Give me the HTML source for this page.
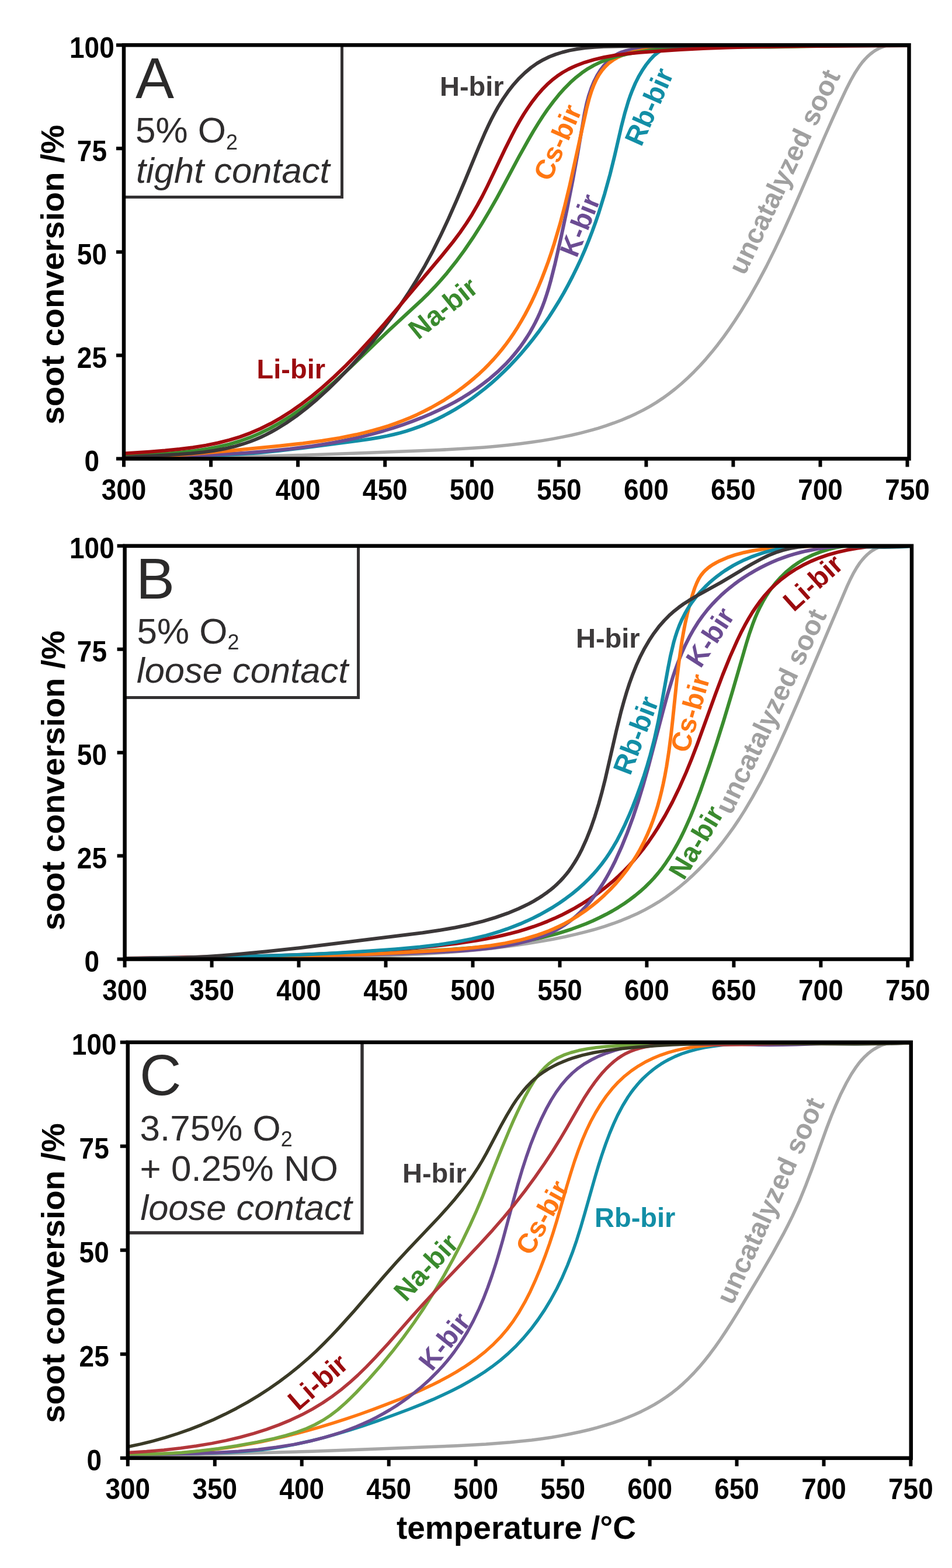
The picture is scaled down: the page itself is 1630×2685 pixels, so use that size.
<!DOCTYPE html>
<html><head><meta charset="utf-8"><title>soot conversion vs temperature</title>
<style>html,body{margin:0;padding:0;background:#fff;}svg{display:block;}text{font-family:"Liberation Sans",Arial,Helvetica,sans-serif;}.tk{font-weight:bold;font-size:50px;fill:#000;}.ax{font-weight:bold;font-size:55px;fill:#000;}.ay{font-weight:bold;font-size:56px;fill:#000;}.pl{font-size:99px;fill:#2b2a2a;}.cd{font-size:62px;fill:#2e2c2d;}.it{font-size:61.5px;font-style:italic;fill:#2e2c2d;}.sb{font-size:36px;fill:#2e2c2d;}.lb{font-weight:bold;font-size:47px;}</style></head><body>
<svg xmlns="http://www.w3.org/2000/svg" width="1630" height="2685" viewBox="0 0 1630 2685">
<rect width="1630" height="2685" fill="#fff"/>
<g id="panelA">
<clipPath id="clipA"><rect x="212" y="77.2" width="1344.5" height="708.3"/></clipPath>
<g clip-path="url(#clipA)" fill="none" stroke-linecap="round" stroke-linejoin="round">
<path d="M212.0,784.4 L280.7,784.3 L353.3,783.4 L430.7,781.8 L515.7,779.4 L625.9,775.5 L752.5,770.5 L806.1,767.6 L829.5,765.9 L851.6,764.0 L871.5,762.0 L891.1,759.8 L909.7,757.3 L928.0,754.6 L945.8,751.6 L962.7,748.4 L979.2,745.0 L994.7,741.3 L1009.7,737.4 L1024.2,733.3 L1038.0,728.9 L1051.3,724.2 L1064.5,719.2 L1077.0,713.9 L1088.9,708.4 L1100.6,702.6 L1112.4,696.1 L1123.9,689.1 L1134.7,681.9 L1145.7,674.0 L1156.6,665.5 L1167.3,656.5 L1178.0,646.8 L1188.3,636.7 L1198.7,625.9 L1208.7,614.8 L1219.0,602.6 L1228.9,590.2 L1238.8,577.1 L1248.8,563.1 L1258.5,548.8 L1268.3,533.6 L1283.2,509.0 L1297.7,483.4 L1312.2,456.1 L1326.7,426.9 L1340.6,397.5 L1355.4,364.6 L1370.6,329.8 L1411.7,234.5 L1424.5,205.6 L1436.3,179.5 L1448.5,153.6 L1456.7,137.5 L1464.4,123.9 L1472.1,112.3 L1476.4,106.6 L1480.8,101.6 L1485.1,97.1 L1489.7,93.0 L1494.5,89.3 L1499.2,86.1 L1504.2,83.3 L1509.1,81.1 L1514.3,79.2 L1519.7,77.7 L1525.3,76.6 L1531.3,75.9 L1537.5,75.6 L1543.6,75.8 L1549.9,76.4 L1556.5,77.4" stroke="#a7a7a7" stroke-width="5.5"/>
<path d="M212.0,785.5 L253.2,783.7 L336.9,781.0 L372.4,779.6 L408.9,777.7 L441.3,775.4 L476.3,772.0 L517.4,767.2 L614.2,754.6 L633.6,751.8 L650.3,749.0 L662.4,746.6 L674.0,744.0 L684.7,741.3 L695.2,738.3 L705.9,734.9 L716.5,731.1 L727.0,727.1 L737.7,722.5 L748.2,717.7 L758.6,712.5 L768.8,707.0 L779.2,701.1 L789.4,694.8 L799.4,688.2 L809.3,681.4 L818.9,674.2 L830.1,665.5 L841.0,656.4 L851.6,646.9 L862.3,636.9 L872.8,626.5 L882.9,615.7 L893.1,604.4 L902.9,592.8 L912.5,580.9 L922.0,568.4 L931.2,555.6 L940.1,542.6 L948.6,529.4 L957.1,515.7 L965.2,501.7 L973.1,487.2 L980.5,473.0 L987.8,458.2 L994.7,443.4 L1001.4,428.0 L1007.7,412.5 L1013.9,396.5 L1019.9,379.9 L1025.6,363.2 L1035.3,331.8 L1044.6,298.2 L1052.0,268.3 L1064.2,215.4 L1069.6,194.4 L1075.8,173.5 L1079.0,164.1 L1082.5,155.0 L1087.8,142.5 L1093.4,131.3 L1099.5,120.9 L1106.2,111.0 L1113.1,102.3 L1119.9,95.2 L1126.8,89.6 L1133.7,85.3 L1137.7,83.4 L1141.9,81.7 L1146.3,80.3 L1150.7,79.2 L1160.9,77.6 L1172.9,76.9 L1184.8,77.0 L1227.9,78.3 L1263.3,78.6 L1396.6,77.9 L1556.5,77.5" stroke="#128ea6" stroke-width="6"/>
<path d="M212.0,785.5 L250.0,783.7 L338.1,780.0 L377.5,778.1 L419.0,775.7 L456.4,772.8 L496.3,768.8 L533.8,764.0 L551.6,761.2 L569.4,758.2 L586.3,755.0 L603.1,751.5 L621.1,747.3 L638.7,742.8 L656.2,738.0 L673.2,732.8 L689.7,727.3 L706.2,721.4 L721.6,715.4 L736.9,709.0 L751.5,702.3 L765.6,695.4 L778.9,688.3 L792.0,680.8 L804.4,673.1 L816.5,665.0 L827.8,656.7 L838.8,648.1 L853.6,635.2 L867.3,621.8 L873.8,614.8 L880.0,607.5 L886.0,600.1 L891.6,592.8 L897.1,585.0 L902.4,577.0 L907.5,568.8 L912.0,560.8 L916.5,552.3 L920.8,543.6 L924.6,535.2 L928.3,526.2 L932.2,515.8 L936.0,504.4 L939.7,492.5 L943.3,479.6 L950.5,450.9 L960.8,405.5 L971.1,357.1 L980.8,308.2 L988.8,264.4 L1001.1,192.8 L1004.4,177.4 L1008.1,163.6 L1012.3,151.1 L1017.0,139.7 L1022.4,129.2 L1028.2,119.9 L1034.9,111.2 L1042.2,103.5 L1049.6,97.4 L1053.5,94.7 L1057.6,92.3 L1064.2,89.3 L1072.0,86.9 L1081.0,84.9 L1093.2,83.0 L1110.2,80.9 L1128.2,79.2 L1147.1,78.0 L1167.0,77.2 L1190.9,76.7 L1217.9,76.8 L1307.6,78.7 L1341.7,79.1 L1381.0,78.8 L1491.4,76.9 L1525.4,76.9 L1556.5,77.5" stroke="#6b4c93" stroke-width="6"/>
<path d="M212.0,785.0 L264.7,782.3 L322.0,778.1 L385.9,772.6 L479.3,763.5 L518.6,759.2 L551.7,754.7 L581.6,749.9 L609.5,744.3 L624.0,740.9 L638.3,737.2 L651.7,733.4 L665.0,729.3 L677.7,724.9 L689.9,720.3 L702.4,715.2 L714.3,709.9 L726.5,704.0 L738.1,698.0 L749.8,691.4 L761.0,684.8 L772.0,677.7 L782.7,670.4 L793.2,662.7 L803.4,654.6 L812.4,647.1 L821.1,639.4 L829.6,631.3 L837.5,623.3 L845.2,615.1 L852.6,606.6 L859.8,597.9 L866.7,589.0 L873.6,579.5 L880.3,569.7 L886.6,559.8 L892.9,549.2 L899.0,538.5 L905.0,527.2 L910.7,515.8 L916.3,503.8 L922.2,490.4 L927.8,476.9 L933.2,462.9 L938.7,448.0 L943.9,432.7 L949.0,416.9 L958.8,383.7 L967.0,352.6 L975.3,318.1 L1004.4,186.0 L1008.7,169.2 L1013.0,155.4 L1016.9,145.2 L1021.0,136.2 L1025.6,128.1 L1030.8,120.6 L1036.4,114.1 L1042.6,108.2 L1049.5,103.0 L1056.9,98.6 L1065.6,94.6 L1075.2,91.4 L1086.5,88.5 L1100.3,85.9 L1117.5,83.3 L1135.7,81.2 L1154.9,79.6 L1175.0,78.5 L1199.5,77.8 L1226.7,77.7 L1314.5,79.2 L1345.5,79.4 L1382.1,79.0 L1458.1,77.3 L1490.8,76.8 L1525.3,76.8 L1556.5,77.5" stroke="#ff7712" stroke-width="6"/>
<path d="M212.0,781.5 L288.9,776.4 L312.2,774.3 L333.3,771.9 L354.7,768.7 L374.3,764.9 L392.7,760.6 L410.1,755.5 L427.4,749.4 L444.3,742.3 L461.6,733.9 L478.7,724.4 L496.2,713.6 L513.8,701.5 L531.7,688.1 L550.4,673.1 L570.2,656.1 L591.6,636.7 L611.3,618.1 L665.4,566.2 L721.0,514.8 L733.1,503.0 L744.0,491.7 L754.8,479.8 L765.2,467.7 L780.3,448.7 L795.2,428.5 L810.0,406.8 L824.8,383.5 L837.6,362.0 L850.6,339.2 L861.7,318.7 L888.4,268.7 L904.4,240.0 L913.1,225.0 L921.4,211.5 L929.5,198.9 L937.3,187.5 L947.3,174.1 L957.0,162.1 L966.6,151.3 L976.5,141.3 L986.6,132.3 L996.5,124.6 L1006.8,117.6 L1017.3,111.6 L1029.3,105.9 L1042.2,101.0 L1056.7,96.7 L1072.7,92.8 L1091.7,89.2 L1111.7,86.3 L1132.6,84.0 L1154.8,82.2 L1180.4,81.0 L1209.3,80.4 L1318.2,80.4 L1358.5,79.8 L1481.3,77.4 L1520.9,77.2 L1556.5,77.5" stroke="#3a8c2e" stroke-width="6"/>
<path d="M212.0,783.5 L237.5,781.8 L306.6,778.1 L327.3,776.5 L345.8,774.6 L366.6,771.7 L385.4,768.3 L403.1,764.1 L419.9,759.0 L428.6,756.0 L437.5,752.5 L446.3,748.7 L454.9,744.6 L463.8,740.0 L472.5,735.2 L489.9,724.5 L507.2,712.6 L524.9,698.9 L543.1,683.6 L561.7,666.6 L580.7,648.0 L600.0,628.0 L618.4,607.8 L635.9,587.4 L652.8,566.6 L668.8,545.7 L684.1,524.4 L698.5,503.0 L713.5,479.1 L727.5,455.2 L741.2,429.8 L755.0,402.0 L768.0,374.3 L781.8,343.0 L795.6,310.5 L820.1,251.1 L829.4,229.6 L835.4,216.6 L841.0,204.9 L846.8,193.9 L852.4,183.8 L861.1,169.6 L870.0,156.7 L879.4,144.7 L888.9,134.1 L898.7,124.6 L909.0,115.9 L919.6,108.4 L930.4,102.2 L940.5,97.3 L951.3,93.1 L962.8,89.5 L975.1,86.4 L988.1,84.0 L1002.2,82.1 L1017.4,80.7 L1033.7,79.8 L1062.4,79.3 L1149.5,79.5 L1225.2,79.5 L1556.6,78.0" stroke="#3b3738" stroke-width="6"/>
<path d="M212.0,776.5 L255.1,773.7 L282.5,771.6 L307.5,769.1 L330.3,766.2 L352.6,762.6 L373.0,758.5 L392.3,753.7 L410.8,748.1 L428.5,741.6 L446.1,734.0 L463.6,725.3 L481.1,715.4 L498.7,704.2 L516.2,691.9 L533.9,678.4 L551.7,663.5 L571.8,645.5 L592.7,625.3 L614.4,603.0 L637.1,578.3 L658.1,554.4 L682.5,525.8 L755.8,438.8 L775.9,413.9 L787.6,398.2 L798.4,382.6 L808.2,367.3 L817.5,351.3 L825.8,336.0 L834.6,318.5 L864.4,255.9 L876.8,231.1 L883.6,218.2 L890.2,206.6 L896.7,195.6 L903.4,185.4 L911.5,173.8 L919.8,163.1 L928.0,153.7 L936.7,144.8 L945.2,137.2 L954.1,130.3 L963.5,124.0 L973.3,118.5 L980.0,115.2 L986.8,112.2 L1001.2,106.8 L1017.0,102.1 L1034.5,98.0 L1052.8,94.8 L1073.2,92.1 L1096.4,89.8 L1127.6,87.4 L1165.2,85.0 L1204.3,83.0 L1245.2,81.5 L1288.8,80.2 L1371.7,78.9 L1556.5,77.5" stroke="#a30b0f" stroke-width="6"/>
</g>
<path d="M212,337.5 H585.5 V77.2 H585.5" fill="none" stroke="#333132" stroke-width="5"/>
<path d="M585.5,79.2 V337.5 H212" fill="none" stroke="#333132" stroke-width="5" stroke-linecap="square"/>
<rect x="212" y="77.2" width="1344.5" height="708.3" fill="none" stroke="#000" stroke-width="6.5"/>
<path d="M212,785.5 V799.5 M361.1,785.5 V799.5 M510.1,785.5 V799.5 M659.2,785.5 V799.5 M808.2,785.5 V799.5 M957.3,785.5 V799.5 M1106.4,785.5 V799.5 M1255.4,785.5 V799.5 M1404.5,785.5 V799.5 M1553.5,785.5 V799.5 M212,785.5 H199 M212,608.4 H199 M212,431.4 H199 M212,254.3 H199 M212,77.2 H199" stroke="#000" stroke-width="6"/>
<text class="tk" transform="translate(212,855.5) scale(0.92,1)" text-anchor="middle">300</text>
<text class="tk" transform="translate(361.1,855.5) scale(0.92,1)" text-anchor="middle">350</text>
<text class="tk" transform="translate(510.1,855.5) scale(0.92,1)" text-anchor="middle">400</text>
<text class="tk" transform="translate(659.2,855.5) scale(0.92,1)" text-anchor="middle">450</text>
<text class="tk" transform="translate(808.2,855.5) scale(0.92,1)" text-anchor="middle">500</text>
<text class="tk" transform="translate(957.3,855.5) scale(0.92,1)" text-anchor="middle">550</text>
<text class="tk" transform="translate(1106.4,855.5) scale(0.92,1)" text-anchor="middle">600</text>
<text class="tk" transform="translate(1255.4,855.5) scale(0.92,1)" text-anchor="middle">650</text>
<text class="tk" transform="translate(1404.5,855.5) scale(0.92,1)" text-anchor="middle">700</text>
<text class="tk" transform="translate(1553.5,855.5) scale(0.92,1)" text-anchor="middle">750</text>
<text class="tk" transform="translate(157.4,807) scale(0.92,1)" text-anchor="middle">0</text>
<text class="tk" transform="translate(157.4,629.9) scale(0.92,1)" text-anchor="middle">25</text>
<text class="tk" transform="translate(157.4,452.9) scale(0.92,1)" text-anchor="middle">50</text>
<text class="tk" transform="translate(157.4,275.8) scale(0.92,1)" text-anchor="middle">75</text>
<text class="tk" transform="translate(157.4,98.7) scale(0.92,1)" text-anchor="middle">100</text>
</g>
<g id="panelB">
<clipPath id="clipB"><rect x="213.6" y="934.8" width="1347.4" height="707.7"/></clipPath>
<g clip-path="url(#clipB)" fill="none" stroke-linecap="round" stroke-linejoin="round">
<path d="M213.6,1642.0 L300.5,1641.0 L504.5,1639.9 L557.0,1639.2 L604.2,1638.2 L662.4,1636.4 L716.7,1633.9 L765.3,1630.9 L810.0,1627.2 L834.2,1624.7 L857.6,1622.0 L880.5,1619.0 L902.6,1615.8 L925.1,1612.1 L946.8,1608.2 L966.8,1604.2 L985.8,1599.9 L1003.0,1595.6 L1019.7,1591.1 L1035.3,1586.3 L1050.4,1581.2 L1064.8,1575.8 L1078.6,1570.1 L1091.7,1564.2 L1104.3,1557.9 L1116.5,1551.2 L1128.1,1544.2 L1139.8,1536.5 L1151.2,1528.3 L1162.6,1519.5 L1173.7,1510.2 L1184.5,1500.4 L1195.3,1490.0 L1205.7,1479.3 L1216.2,1467.8 L1226.5,1455.7 L1236.5,1443.3 L1246.4,1430.2 L1256.0,1416.9 L1265.4,1402.9 L1274.8,1388.1 L1288.4,1365.2 L1302.1,1340.4 L1315.6,1314.0 L1329.6,1284.6 L1345.9,1248.7 L1367.2,1199.7 L1450.5,1003.6 L1456.2,991.4 L1461.5,981.1 L1466.7,972.1 L1472.2,963.9 L1476.4,958.6 L1480.6,953.9 L1485.0,949.5 L1489.7,945.6 L1494.5,942.3 L1499.4,939.4 L1504.7,936.9 L1510.2,934.8 L1516.0,933.2 L1521.6,932.1 L1527.9,931.4 L1534.1,931.2 L1540.5,931.5 L1547.1,932.2 L1554.0,933.4 L1561.1,935.1" stroke="#a7a7a7" stroke-width="5.5"/>
<path d="M213.6,1641.5 L343.8,1640.0 L427.0,1638.8 L503.2,1637.2 L572.4,1635.3 L642.0,1632.7 L707.7,1629.6 L772.5,1625.8 L817.6,1622.2 L852.2,1618.5 L883.6,1614.1 L898.5,1611.5 L912.6,1608.8 L926.6,1605.7 L940.2,1602.4 L953.7,1598.8 L966.7,1594.9 L979.2,1590.8 L991.6,1586.3 L1003.5,1581.7 L1015.2,1576.7 L1026.7,1571.3 L1037.6,1565.8 L1048.3,1560.0 L1058.7,1553.8 L1068.9,1547.2 L1078.4,1540.5 L1087.6,1533.5 L1096.2,1526.4 L1104.5,1519.0 L1112.4,1511.2 L1119.7,1503.5 L1126.9,1495.0 L1133.8,1486.3 L1140.3,1477.2 L1146.7,1467.5 L1152.9,1457.5 L1159.1,1446.6 L1165.1,1435.4 L1170.9,1423.5 L1176.6,1411.1 L1182.5,1397.6 L1188.1,1383.7 L1200.0,1352.1 L1214.5,1310.6 L1226.5,1273.9 L1238.8,1235.0 L1254.5,1182.7 L1278.0,1101.5 L1283.5,1083.9 L1288.9,1068.5 L1293.0,1057.9 L1297.3,1047.9 L1301.7,1038.8 L1306.3,1030.0 L1311.2,1021.7 L1316.4,1013.6 L1322.0,1005.8 L1327.7,998.6 L1336.9,988.3 L1346.5,979.0 L1356.8,970.5 L1367.6,963.0 L1379.3,956.1 L1391.5,950.2 L1404.6,945.1 L1418.1,940.8 L1430.3,937.9 L1443.0,935.6 L1456.0,934.1 L1469.6,933.2 L1481.5,932.9 L1494.3,933.0 L1541.7,934.8 L1561.0,935.1" stroke="#3a8c2e" stroke-width="6"/>
<path d="M213.6,1641.0 L422.2,1637.5 L482.7,1636.0 L537.3,1634.1 L593.6,1631.5 L646.5,1628.3 L697.0,1624.4 L745.0,1619.9 L782.8,1615.5 L815.8,1610.6 L831.3,1607.9 L846.3,1604.9 L860.4,1601.8 L874.4,1598.4 L887.8,1594.8 L900.8,1590.9 L913.6,1586.7 L925.9,1582.3 L937.7,1577.6 L949.3,1572.6 L960.8,1567.3 L972.1,1561.5 L984.0,1555.1 L995.7,1548.2 L1007.2,1540.9 L1018.0,1533.5 L1029.0,1525.5 L1039.3,1517.4 L1049.7,1508.7 L1059.4,1500.0 L1068.8,1490.9 L1077.6,1481.8 L1086.0,1472.4 L1094.4,1462.4 L1102.8,1451.8 L1110.8,1440.9 L1118.7,1429.4 L1126.3,1417.6 L1138.9,1396.4 L1151.2,1373.5 L1163.2,1348.8 L1174.8,1322.6 L1184.2,1299.6 L1194.0,1274.1 L1225.3,1187.7 L1237.2,1156.0 L1249.8,1124.9 L1262.2,1097.0 L1268.8,1083.2 L1275.3,1070.8 L1281.9,1059.0 L1288.4,1048.3 L1295.2,1038.2 L1302.0,1028.8 L1309.1,1020.0 L1316.5,1011.7 L1326.8,1001.5 L1337.7,992.0 L1349.4,983.3 L1362.0,975.0 L1374.8,967.8 L1388.5,961.1 L1402.7,955.3 L1417.7,950.1 L1433.9,945.6 L1450.4,941.8 L1467.5,938.8 L1485.6,936.4 L1504.1,934.9 L1522.8,934.2 L1541.7,934.2 L1561.0,935.1" stroke="#a30b0f" stroke-width="6"/>
<path d="M213.6,1641.5 L423.7,1639.0 L495.2,1637.9 L559.7,1636.5 L625.6,1634.8 L688.0,1632.7 L753.7,1630.0 L791.8,1627.9 L818.5,1625.8 L842.0,1623.2 L864.3,1619.9 L885.1,1615.9 L903.9,1611.2 L921.1,1605.9 L929.3,1602.9 L936.9,1599.9 L944.4,1596.5 L951.3,1593.1 L959.1,1588.7 L966.2,1584.2 L973.5,1579.1 L980.5,1573.7 L987.2,1568.0 L994.0,1561.6 L1000.5,1554.9 L1007.1,1547.6 L1013.3,1540.0 L1019.3,1532.2 L1025.3,1523.6 L1031.3,1514.5 L1037.0,1505.1 L1042.6,1495.1 L1048.2,1484.6 L1053.6,1473.8 L1063.9,1451.1 L1074.0,1426.1 L1083.7,1399.7 L1093.2,1371.0 L1101.3,1344.4 L1109.7,1314.7 L1135.2,1217.8 L1143.0,1189.0 L1151.9,1159.8 L1156.2,1147.0 L1160.7,1134.8 L1166.9,1119.1 L1173.4,1104.6 L1180.3,1090.8 L1187.4,1078.1 L1194.9,1066.1 L1203.1,1054.5 L1211.3,1044.0 L1220.5,1033.6 L1227.2,1026.6 L1234.4,1019.6 L1242.0,1012.8 L1249.8,1006.3 L1257.8,1000.0 L1266.4,993.7 L1274.9,988.0 L1284.0,982.3 L1292.8,977.1 L1302.2,972.0 L1311.7,967.2 L1321.4,962.8 L1330.8,958.8 L1340.6,955.1 L1350.5,951.6 L1360.5,948.6 L1370.1,946.0 L1379.7,943.7 L1399.5,939.8 L1420.2,936.9 L1442.5,934.9 L1465.3,933.8 L1490.5,933.5 L1518.5,933.9 L1561.0,935.1" stroke="#6b4c93" stroke-width="6"/>
<path d="M213.5,1641.5 L454.7,1638.2 L514.3,1637.1 L568.1,1635.8 L626.9,1633.9 L682.4,1631.5 L736.7,1628.5 L782.7,1625.4 L813.1,1622.6 L840.2,1619.2 L865.1,1615.1 L887.9,1610.3 L898.7,1607.6 L909.4,1604.5 L919.6,1601.3 L929.6,1597.9 L939.2,1594.2 L948.6,1590.3 L957.8,1586.0 L966.6,1581.6 L978.7,1574.9 L990.5,1567.6 L1002.0,1559.8 L1013.5,1551.2 L1024.3,1542.4 L1035.0,1532.7 L1045.3,1522.6 L1055.1,1512.1 L1064.4,1501.1 L1073.0,1490.2 L1081.0,1478.8 L1088.5,1467.2 L1095.5,1455.2 L1101.9,1443.0 L1107.9,1430.1 L1113.6,1416.6 L1117.9,1405.3 L1121.9,1393.5 L1125.7,1381.5 L1129.2,1368.9 L1132.5,1355.8 L1135.6,1342.1 L1138.5,1327.8 L1141.2,1313.0 L1145.2,1287.3 L1148.9,1258.6 L1152.0,1230.5 L1158.9,1163.8 L1162.9,1130.1 L1167.7,1097.0 L1170.4,1081.7 L1173.2,1067.3 L1176.9,1050.8 L1180.9,1035.2 L1185.4,1019.3 L1189.6,1006.5 L1192.9,998.3 L1196.4,991.2 L1200.3,985.0 L1204.7,979.6 L1208.1,976.2 L1212.1,972.7 L1216.4,969.5 L1221.3,966.3 L1226.5,963.3 L1232.2,960.4 L1244.9,954.9 L1258.7,950.1 L1273.3,946.2 L1289.0,943.0 L1306.1,940.4 L1323.3,938.6 L1343.3,937.1 L1364.0,936.0 L1386.1,935.3 L1425.9,935.0 L1517.5,935.6 L1540.1,935.5 L1561.0,935.0" stroke="#ff7712" stroke-width="6"/>
<path d="M213.6,1641.5 L323.2,1639.8 L392.1,1638.5 L455.3,1636.8 L512.8,1634.9 L570.3,1632.2 L624.8,1629.1 L678.4,1625.2 L718.9,1621.5 L751.0,1617.7 L779.8,1613.2 L807.1,1607.9 L819.8,1605.0 L832.5,1601.8 L844.6,1598.3 L856.7,1594.6 L868.2,1590.7 L879.7,1586.4 L891.1,1581.9 L902.0,1577.1 L912.7,1572.1 L923.3,1566.8 L935.2,1560.2 L946.9,1553.3 L957.9,1546.2 L968.6,1538.7 L979.1,1530.9 L988.8,1522.9 L998.2,1514.6 L1006.9,1506.2 L1015.2,1497.4 L1022.9,1488.7 L1030.2,1479.6 L1037.1,1470.3 L1043.8,1460.3 L1050.4,1449.6 L1056.7,1438.7 L1062.9,1426.7 L1069.6,1413.0 L1076.4,1397.8 L1083.2,1381.6 L1090.0,1364.0 L1096.6,1345.9 L1102.7,1328.1 L1108.2,1310.7 L1113.3,1293.1 L1120.2,1266.6 L1126.7,1237.2 L1132.2,1208.4 L1143.7,1144.9 L1148.2,1122.2 L1153.3,1100.7 L1156.1,1091.0 L1158.9,1082.3 L1163.1,1071.0 L1167.6,1060.8 L1172.8,1050.5 L1178.6,1040.6 L1184.9,1031.2 L1192.1,1021.7 L1199.5,1013.0 L1207.7,1004.5 L1213.8,998.6 L1220.2,993.0 L1226.8,987.7 L1233.9,982.3 L1240.9,977.4 L1248.5,972.6 L1255.9,968.2 L1263.9,963.9 L1271.6,960.1 L1279.9,956.4 L1287.9,953.1 L1296.5,950.0 L1305.1,947.1 L1313.5,944.7 L1322.4,942.5 L1331.3,940.5 L1345.6,938.1 L1360.4,936.3 L1376.2,935.1 L1393.1,934.4 L1409.2,934.2 L1426.6,934.4 L1489.5,936.5 L1513.9,937.0 L1538.8,936.5 L1550.1,935.9 L1560.9,934.9" stroke="#128ea6" stroke-width="6"/>
<path d="M213.6,1640.9 L235.6,1641.3 L258.4,1641.3 L281.6,1641.0 L305.2,1640.4 L329.6,1639.3 L354.4,1637.9 L380.1,1636.2 L407.0,1634.0 L456.8,1629.3 L512.6,1623.2 L723.6,1597.3 L753.8,1592.8 L779.9,1588.3 L804.2,1583.2 L826.6,1577.6 L848.3,1571.1 L868.9,1563.9 L888.0,1556.0 L897.0,1551.8 L905.5,1547.6 L913.4,1543.3 L921.1,1538.7 L928.3,1534.1 L935.2,1529.3 L942.0,1524.2 L948.2,1519.1 L954.1,1513.7 L959.5,1508.4 L964.6,1502.9 L969.5,1497.1 L974.5,1490.8 L979.1,1484.2 L983.5,1477.4 L987.9,1470.1 L992.3,1462.2 L996.4,1454.1 L1003.9,1437.5 L1011.3,1418.9 L1018.4,1398.4 L1025.1,1376.6 L1030.7,1356.2 L1036.4,1333.7 L1055.1,1252.1 L1063.2,1219.1 L1068.0,1201.7 L1072.9,1185.2 L1077.8,1170.0 L1082.9,1155.9 L1089.4,1139.6 L1096.4,1124.1 L1103.7,1109.9 L1111.3,1096.9 L1119.4,1084.7 L1128.1,1073.1 L1137.4,1062.5 L1147.1,1052.7 L1154.4,1046.3 L1162.0,1040.3 L1170.3,1034.3 L1179.4,1028.4 L1194.2,1019.7 L1234.4,997.3 L1286.8,966.1 L1302.0,957.9 L1315.4,951.3 L1328.0,946.2 L1340.6,942.1 L1353.0,939.0 L1366.3,936.8 L1380.6,935.3 L1396.1,934.4 L1408.2,934.2 L1422.2,934.3 L1478.2,935.9 L1507.9,936.4 L1535.6,936.1 L1561.0,935.0" stroke="#3b3738" stroke-width="6"/>
</g>
<path d="M213.6,1194.5 H613.5 V934.8 H613.5" fill="none" stroke="#333132" stroke-width="5"/>
<path d="M613.5,936.8 V1194.5 H213.6" fill="none" stroke="#333132" stroke-width="5" stroke-linecap="square"/>
<rect x="213.6" y="934.8" width="1347.4" height="707.7" fill="none" stroke="#000" stroke-width="6.5"/>
<path d="M213.6,1642.5 V1656.5 M362.6,1642.5 V1656.5 M511.5,1642.5 V1656.5 M660.5,1642.5 V1656.5 M809.5,1642.5 V1656.5 M958.5,1642.5 V1656.5 M1107.4,1642.5 V1656.5 M1256.4,1642.5 V1656.5 M1405.4,1642.5 V1656.5 M1554.3,1642.5 V1656.5 M213.6,1642.5 H200.6 M213.6,1465.6 H200.6 M213.6,1288.7 H200.6 M213.6,1111.7 H200.6 M213.6,934.8 H200.6" stroke="#000" stroke-width="6"/>
<text class="tk" transform="translate(213.6,1712.5) scale(0.92,1)" text-anchor="middle">300</text>
<text class="tk" transform="translate(362.6,1712.5) scale(0.92,1)" text-anchor="middle">350</text>
<text class="tk" transform="translate(511.5,1712.5) scale(0.92,1)" text-anchor="middle">400</text>
<text class="tk" transform="translate(660.5,1712.5) scale(0.92,1)" text-anchor="middle">450</text>
<text class="tk" transform="translate(809.5,1712.5) scale(0.92,1)" text-anchor="middle">500</text>
<text class="tk" transform="translate(958.5,1712.5) scale(0.92,1)" text-anchor="middle">550</text>
<text class="tk" transform="translate(1107.4,1712.5) scale(0.92,1)" text-anchor="middle">600</text>
<text class="tk" transform="translate(1256.4,1712.5) scale(0.92,1)" text-anchor="middle">650</text>
<text class="tk" transform="translate(1405.4,1712.5) scale(0.92,1)" text-anchor="middle">700</text>
<text class="tk" transform="translate(1554.3,1712.5) scale(0.92,1)" text-anchor="middle">750</text>
<text class="tk" transform="translate(157.4,1664) scale(0.92,1)" text-anchor="middle">0</text>
<text class="tk" transform="translate(157.4,1487.1) scale(0.92,1)" text-anchor="middle">25</text>
<text class="tk" transform="translate(157.4,1310.2) scale(0.92,1)" text-anchor="middle">50</text>
<text class="tk" transform="translate(157.4,1133.2) scale(0.92,1)" text-anchor="middle">75</text>
<text class="tk" transform="translate(157.4,956.3) scale(0.92,1)" text-anchor="middle">100</text>
</g>
<g id="panelC">
<clipPath id="clipC"><rect x="218.8" y="1784.8" width="1341" height="712"/></clipPath>
<g clip-path="url(#clipC)" fill="none" stroke-linecap="round" stroke-linejoin="round">
<path d="M218.8,2491.5 L291.4,2490.9 L367.9,2489.7 L448.1,2487.8 L534.8,2485.2 L648.3,2481.1 L781.5,2475.7 L831.8,2473.0 L873.5,2469.8 L910.4,2466.0 L927.8,2463.7 L944.7,2461.2 L961.1,2458.4 L977.1,2455.3 L992.7,2452.0 L1007.8,2448.5 L1022.4,2444.7 L1036.0,2440.7 L1049.1,2436.6 L1062.1,2432.1 L1074.5,2427.3 L1086.6,2422.2 L1098.2,2416.9 L1109.1,2411.4 L1120.5,2405.1 L1131.3,2398.5 L1141.4,2391.8 L1151.2,2384.7 L1160.7,2377.1 L1169.8,2369.1 L1178.9,2360.4 L1188.1,2351.0 L1197.2,2340.9 L1206.2,2330.2 L1215.3,2318.7 L1224.3,2306.6 L1233.5,2293.5 L1242.9,2279.4 L1252.8,2264.1 L1263.6,2246.6 L1301.0,2184.2 L1322.7,2146.9 L1341.1,2113.4 L1349.2,2097.7 L1356.7,2082.6 L1368.9,2056.1 L1379.9,2029.1 L1390.2,2002.0 L1415.6,1931.3 L1423.4,1911.0 L1430.8,1893.1 L1439.9,1872.7 L1449.1,1854.5 L1457.6,1839.5 L1466.0,1826.8 L1470.8,1820.3 L1475.7,1814.6 L1480.6,1809.4 L1485.7,1804.7 L1490.8,1800.6 L1496.2,1796.8 L1501.9,1793.5 L1507.5,1790.8 L1513.3,1788.5 L1519.5,1786.7 L1525.9,1785.3 L1532.3,1784.5 L1538.9,1784.1 L1545.8,1784.3 L1553.0,1784.9 L1560.0,1785.9" stroke="#a7a7a7" stroke-width="5.5"/>
<path d="M218.8,2491.0 L259.5,2489.7 L333.6,2488.7 L362.7,2488.0 L392.1,2486.9 L418.4,2485.2 L448.0,2482.4 L461.8,2480.7 L475.9,2478.6 L490.4,2476.1 L504.8,2473.4 L534.7,2466.7 L555.0,2461.6 L576.1,2455.7 L597.9,2449.2 L620.8,2441.8 L647.0,2432.8 L675.5,2422.5 L700.9,2413.0 L723.2,2404.1 L741.4,2396.4 L758.2,2388.8 L774.0,2381.2 L789.2,2373.5 L803.6,2365.4 L817.0,2357.4 L829.7,2349.2 L842.0,2340.6 L856.9,2329.1 L870.8,2317.1 L884.0,2304.4 L896.8,2290.6 L909.2,2275.8 L921.0,2260.0 L932.4,2243.1 L942.9,2225.8 L953.3,2206.7 L962.8,2187.2 L971.7,2166.5 L980.0,2145.1 L987.2,2124.3 L994.4,2101.2 L1001.3,2077.5 L1019.2,2014.4 L1024.8,1995.6 L1030.3,1978.4 L1037.0,1959.0 L1043.8,1940.9 L1050.6,1924.6 L1057.4,1909.9 L1066.2,1893.3 L1075.2,1878.5 L1079.9,1871.7 L1084.9,1865.0 L1089.9,1858.9 L1095.0,1853.0 L1100.7,1847.0 L1106.3,1841.7 L1112.5,1836.3 L1118.5,1831.4 L1125.1,1826.5 L1131.5,1822.2 L1138.1,1818.2 L1144.8,1814.5 L1155.8,1809.1 L1167.2,1804.5 L1179.7,1800.4 L1192.6,1796.9 L1206.1,1793.9 L1220.8,1791.5 L1236.2,1789.6 L1253.0,1788.1 L1275.3,1787.0 L1300.8,1786.5 L1469.5,1787.4 L1516.6,1787.0 L1560.0,1785.9" stroke="#128ea6" stroke-width="5.5"/>
<path d="M218.7,2489.9 L237.6,2490.1 L256.3,2490.0 L275.0,2489.5 L294.1,2488.7 L313.1,2487.5 L332.0,2485.9 L351.2,2483.9 L370.4,2481.6 L389.5,2479.0 L409.0,2475.9 L428.4,2472.4 L447.7,2468.7 L467.0,2464.6 L486.6,2460.0 L506.1,2455.2 L526.0,2449.9 L547.9,2443.7 L570.1,2436.9 L592.7,2429.6 L615.2,2422.0 L638.4,2413.7 L661.5,2404.9 L685.0,2395.7 L705.6,2387.1 L722.9,2379.5 L738.7,2372.1 L753.5,2364.7 L767.7,2357.1 L781.2,2349.4 L793.6,2341.7 L805.7,2333.6 L817.1,2325.4 L831.6,2313.8 L845.0,2301.7 L857.3,2289.1 L868.5,2276.0 L878.9,2262.1 L888.9,2246.7 L898.5,2229.9 L908.0,2211.4 L916.3,2193.2 L924.9,2172.8 L933.0,2151.8 L940.8,2129.8 L946.8,2111.6 L952.8,2092.1 L970.6,2030.8 L977.1,2009.2 L983.5,1989.0 L989.8,1971.0 L996.7,1952.9 L1004.0,1935.9 L1011.5,1920.3 L1019.5,1905.5 L1028.5,1890.7 L1038.1,1876.9 L1048.2,1864.2 L1058.6,1852.9 L1069.4,1842.8 L1081.0,1833.6 L1093.3,1825.3 L1106.5,1817.7 L1118.4,1812.0 L1131.0,1806.8 L1144.0,1802.4 L1157.6,1798.6 L1172.3,1795.4 L1187.8,1792.8 L1204.3,1790.7 L1221.8,1789.2 L1245.5,1788.0 L1273.7,1787.4 L1411.3,1786.9 L1560.0,1786.0" stroke="#ff7712" stroke-width="5.5"/>
<path d="M218.9,2491.0 L302.9,2489.6 L338.5,2488.7 L375.2,2487.2 L408.3,2485.2 L441.8,2482.2 L472.9,2478.3 L502.4,2473.6 L516.4,2470.9 L530.3,2467.9 L544.5,2464.4 L558.2,2460.7 L571.7,2456.7 L584.7,2452.5 L597.6,2447.9 L609.9,2443.0 L622.1,2437.8 L633.8,2432.4 L645.3,2426.7 L656.6,2420.5 L667.8,2414.0 L678.8,2407.1 L689.6,2399.8 L700.1,2392.2 L710.4,2384.2 L720.1,2376.2 L735.9,2362.0 L750.8,2347.0 L758.1,2339.1 L764.9,2331.2 L771.4,2323.2 L777.7,2315.0 L789.2,2298.5 L800.2,2280.7 L810.4,2261.9 L820.2,2241.4 L827.7,2223.9 L835.0,2205.0 L842.1,2185.0 L849.1,2163.5 L854.9,2144.3 L861.0,2122.9 L879.8,2053.0 L886.8,2027.6 L894.0,2003.2 L901.2,1981.0 L909.2,1958.2 L917.5,1937.2 L926.2,1917.3 L935.1,1899.2 L943.6,1883.9 L952.1,1870.4 L961.2,1857.9 L970.5,1847.0 L980.0,1837.5 L989.9,1829.2 L1000.8,1821.6 L1013.1,1814.5 L1025.2,1808.6 L1038.6,1803.3 L1052.7,1798.6 L1067.9,1794.6 L1083.3,1791.3 L1099.8,1788.7 L1116.8,1786.8 L1135.3,1785.5 L1159.7,1784.7 L1186.8,1784.9 L1213.3,1785.8 L1281.0,1788.7 L1299.7,1789.2 L1318.3,1789.4 L1339.4,1789.3 L1362.9,1788.8 L1449.8,1785.7 L1486.3,1784.8 L1506.1,1784.7 L1524.8,1784.8 L1542.8,1785.3 L1560.0,1786.1" stroke="#6b4c93" stroke-width="5.5"/>
<path d="M218.8,2490.0 L249.5,2490.1 L280.2,2489.2 L311.0,2487.4 L341.5,2484.6 L373.2,2480.7 L405.5,2475.8 L440.5,2469.4 L469.9,2463.2 L490.1,2458.0 L508.3,2452.4 L524.7,2446.2 L539.4,2439.5 L552.6,2432.2 L565.2,2424.0 L578.2,2414.1 L591.4,2402.5 L600.3,2394.0 L609.9,2384.5 L631.7,2361.4 L651.9,2338.5 L671.6,2314.6 L690.6,2290.1 L708.8,2265.0 L726.5,2238.9 L743.4,2212.3 L759.8,2184.8 L775.5,2156.5 L790.4,2127.7 L804.5,2098.5 L815.2,2074.8 L825.7,2050.2 L859.0,1966.5 L872.0,1935.2 L879.0,1919.2 L885.9,1904.2 L892.7,1890.1 L899.5,1876.8 L906.9,1863.4 L913.4,1852.5 L919.8,1843.2 L926.2,1835.0 L932.9,1827.8 L939.8,1821.5 L947.0,1816.1 L954.9,1811.5 L965.2,1806.7 L977.3,1802.5 L991.0,1798.8 L1005.8,1795.9 L1020.8,1793.8 L1038.0,1792.1 L1060.4,1790.6 L1087.9,1789.2 L1129.7,1787.9 L1176.8,1787.2 L1324.8,1787.3 L1490.8,1786.1 L1560.0,1786.0" stroke="#75a83f" stroke-width="5.5"/>
<path d="M218.9,2487.5 L250.8,2485.5 L280.7,2482.9 L309.3,2479.7 L336.4,2476.0 L362.7,2471.6 L387.5,2466.6 L411.4,2461.0 L434.5,2454.6 L456.5,2447.6 L477.7,2439.9 L497.7,2431.6 L516.8,2422.6 L535.0,2412.8 L552.3,2402.4 L568.7,2391.3 L584.4,2379.4 L598.4,2367.7 L612.6,2354.9 L627.2,2340.6 L642.6,2324.7 L664.7,2300.6 L707.1,2252.4 L725.4,2232.2 L750.0,2205.7 L800.2,2153.1 L821.4,2130.6 L843.6,2106.3 L862.8,2084.2 L881.2,2061.9 L899.0,2039.0 L916.0,2015.9 L932.4,1992.3 L946.2,1971.2 L959.3,1950.1 L969.5,1932.9 L990.3,1896.8 L999.8,1880.8 L1009.4,1866.0 L1018.5,1853.1 L1025.2,1844.5 L1031.6,1836.8 L1038.4,1829.5 L1044.9,1823.2 L1051.5,1817.4 L1058.0,1812.4 L1064.4,1808.1 L1071.2,1804.2 L1078.6,1800.7 L1086.6,1797.7 L1094.9,1795.1 L1104.2,1792.9 L1114.1,1791.0 L1124.9,1789.5 L1136.3,1788.5 L1148.6,1787.8 L1160.6,1787.5 L1174.4,1787.6 L1225.6,1788.9 L1249.1,1789.0 L1273.6,1788.7 L1333.6,1787.1 L1364.6,1786.5 L1403.6,1786.4 L1504.5,1786.7 L1533.9,1786.5 L1560.0,1786.0" stroke="#b3373b" stroke-width="5.5"/>
<path d="M218.7,2477.5 L240.4,2472.9 L261.9,2467.6 L283.1,2461.7 L304.0,2455.0 L325.1,2447.6 L345.5,2439.6 L365.6,2430.9 L385.4,2421.6 L404.8,2411.7 L423.9,2401.1 L442.6,2389.9 L460.5,2378.2 L478.4,2365.8 L495.5,2352.9 L512.1,2339.5 L528.4,2325.5 L541.2,2313.7 L554.2,2301.0 L567.6,2287.4 L581.5,2272.5 L606.6,2244.6 L656.7,2186.4 L678.6,2161.6 L699.2,2139.3 L751.4,2084.3 L766.2,2068.0 L779.1,2053.1 L790.5,2039.0 L800.8,2025.6 L810.1,2012.3 L818.8,1999.0 L825.8,1987.4 L833.1,1974.4 L857.7,1927.8 L867.7,1909.8 L878.6,1891.7 L883.7,1884.0 L889.1,1876.6 L895.9,1867.9 L902.6,1860.1 L909.4,1853.1 L916.5,1846.5 L923.8,1840.5 L931.2,1835.3 L939.3,1830.2 L948.1,1825.4 L955.3,1821.8 L963.1,1818.4 L971.1,1815.2 L979.6,1812.2 L988.3,1809.5 L997.4,1806.9 L1016.7,1802.5 L1037.0,1799.1 L1060.2,1796.1 L1091.5,1793.0 L1124.5,1790.6 L1150.9,1789.1 L1178.1,1787.9 L1206.5,1787.1 L1236.9,1786.6 L1297.2,1786.5 L1414.7,1787.6 L1463.5,1787.7 L1514.3,1787.2 L1560.0,1785.9" stroke="#3a3a26" stroke-width="5.5"/>
</g>
<path d="M218.8,2111 H620 V1784.8 H620" fill="none" stroke="#333132" stroke-width="5"/>
<path d="M620,1786.8 V2111 H218.8" fill="none" stroke="#333132" stroke-width="5" stroke-linecap="square"/>
<rect x="218.8" y="1784.8" width="1341" height="712" fill="none" stroke="#000" stroke-width="6.5"/>
<path d="M218.8,2496.8 V2510.8 M367.8,2496.8 V2510.8 M516.7,2496.8 V2510.8 M665.7,2496.8 V2510.8 M814.6,2496.8 V2510.8 M963.6,2496.8 V2510.8 M1112.6,2496.8 V2510.8 M1261.5,2496.8 V2510.8 M1410.5,2496.8 V2510.8 M1559.4,2496.8 V2510.8 M218.8,2496.8 H205.8 M218.8,2318.8 H205.8 M218.8,2140.8 H205.8 M218.8,1962.8 H205.8 M218.8,1784.8 H205.8" stroke="#000" stroke-width="6"/>
<text class="tk" transform="translate(218.8,2566.8) scale(0.92,1)" text-anchor="middle">300</text>
<text class="tk" transform="translate(367.8,2566.8) scale(0.92,1)" text-anchor="middle">350</text>
<text class="tk" transform="translate(516.7,2566.8) scale(0.92,1)" text-anchor="middle">400</text>
<text class="tk" transform="translate(665.7,2566.8) scale(0.92,1)" text-anchor="middle">450</text>
<text class="tk" transform="translate(814.6,2566.8) scale(0.92,1)" text-anchor="middle">500</text>
<text class="tk" transform="translate(963.6,2566.8) scale(0.92,1)" text-anchor="middle">550</text>
<text class="tk" transform="translate(1112.6,2566.8) scale(0.92,1)" text-anchor="middle">600</text>
<text class="tk" transform="translate(1261.5,2566.8) scale(0.92,1)" text-anchor="middle">650</text>
<text class="tk" transform="translate(1410.5,2566.8) scale(0.92,1)" text-anchor="middle">700</text>
<text class="tk" transform="translate(1559.4,2566.8) scale(0.92,1)" text-anchor="middle">750</text>
<text class="tk" transform="translate(161.2,2518.3) scale(0.92,1)" text-anchor="middle">0</text>
<text class="tk" transform="translate(161.2,2340.3) scale(0.92,1)" text-anchor="middle">25</text>
<text class="tk" transform="translate(161.2,2162.3) scale(0.92,1)" text-anchor="middle">50</text>
<text class="tk" transform="translate(161.2,1984.3) scale(0.92,1)" text-anchor="middle">75</text>
<text class="tk" transform="translate(161.2,1806.3) scale(0.92,1)" text-anchor="middle">100</text>
</g>
<text class="pl" x="232" y="168">A</text>
<text class="cd" x="232" y="244">5% O<tspan class="sb" dy="12">2</tspan></text>
<text class="it" x="233" y="312.5">tight contact</text>
<text class="pl" x="233" y="1024.5">B</text>
<text class="cd" x="234.5" y="1101.5">5% O<tspan class="sb" dy="10">2</tspan></text>
<text class="it" x="234" y="1169">loose contact</text>
<text class="pl" x="239" y="1874.5">C</text>
<text class="cd" x="239.5" y="1953">3.75% O<tspan class="sb" dy="10">2</tspan></text>
<text class="cd" x="239.5" y="2021.5">+ 0.25% NO</text>
<text class="it" x="240.5" y="2089">loose contact</text>
<text class="ay" transform="translate(109,470.4) rotate(-90)" text-anchor="middle">soot conversion /%</text>
<text class="ay" transform="translate(109.5,1336.5) rotate(-90)" text-anchor="middle">soot conversion /%</text>
<text class="ay" transform="translate(110,2180) rotate(-90)" text-anchor="middle">soot conversion /%</text>
<text class="ax" x="884" y="2634.5" text-anchor="middle">temperature /°C</text>
<text class="lb" x="753" y="163.5" fill="#3d3a3b">H-bir</text>
<text class="lb" x="439.5" y="647.5" fill="#9b0a0e">Li-bir</text>
<text class="lb" transform="translate(716,583) rotate(-39)" fill="#3a8a2e">Na-bir</text>
<text class="lb" transform="translate(942,312.5) rotate(-66)" fill="#ff7712">Cs-bir</text>
<text class="lb" transform="translate(987.5,443) rotate(-68)" fill="#6b4c93">K-bir</text>
<text class="lb" transform="translate(1098,252.5) rotate(-66)" fill="#128ea6">Rb-bir</text>
<text class="lb" transform="translate(1275,473) rotate(-64.4)" fill="#a0a0a0">uncatalyzed soot</text>
<text class="lb" x="986" y="1109" fill="#3d3a3b">H-bir</text>
<text class="lb" transform="translate(1079,1329.5) rotate(-69)" fill="#128ea6">Rb-bir</text>
<text class="lb" transform="translate(1178.5,1291) rotate(-74)" fill="#ff7712">Cs-bir</text>
<text class="lb" transform="translate(1199.6,1146) rotate(-57)" fill="#6b4c93">K-bir</text>
<text class="lb" transform="translate(1359,1049) rotate(-42)" fill="#9b0a0e">Li-bir</text>
<text class="lb" transform="translate(1170.7,1509) rotate(-59)" fill="#3a8a2e">Na-bir</text>
<text class="lb" transform="translate(1252,1397) rotate(-64.5)" fill="#a0a0a0">uncatalyzed soot</text>
<text class="lb" x="689" y="2025" fill="#3d3a3b">H-bir</text>
<text class="lb" x="1018" y="2101" fill="#128ea6">Rb-bir</text>
<text class="lb" transform="translate(909.5,2152) rotate(-61)" fill="#ff7712">Cs-bir</text>
<text class="lb" transform="translate(694.8,2230.8) rotate(-47)" fill="#3a8a2e">Na-bir</text>
<text class="lb" transform="translate(739.6,2349.8) rotate(-51.6)" fill="#6b4c93">K-bir</text>
<text class="lb" transform="translate(510.5,2417) rotate(-41)" fill="#9b0a0e">Li-bir</text>
<text class="lb" transform="translate(1254.4,2236.2) rotate(-65.5)" fill="#a0a0a0">uncatalyzed soot</text>
</svg></body></html>
